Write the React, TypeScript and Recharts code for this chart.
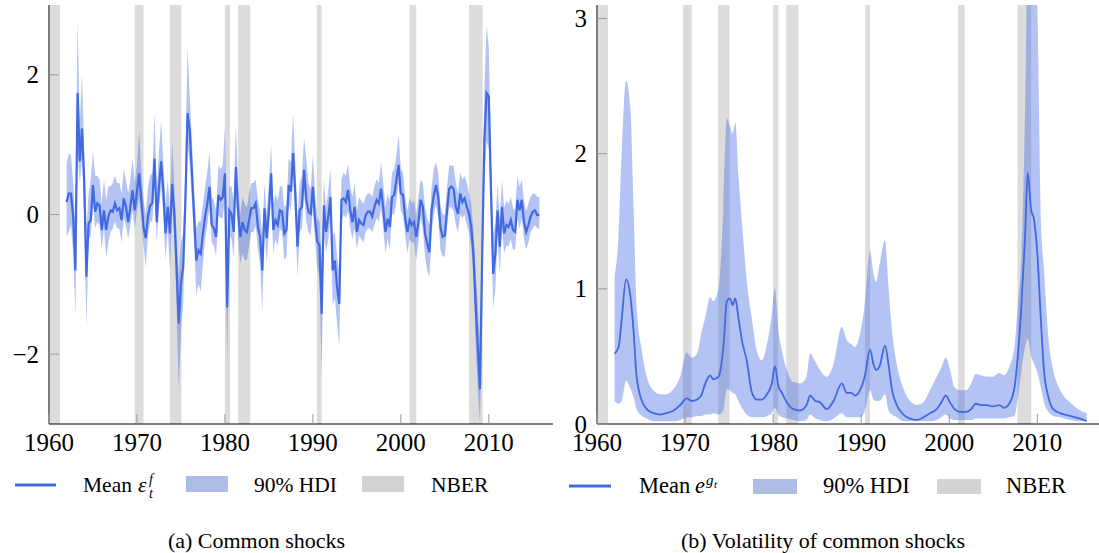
import React from "react";
import { Area, ComposedChart, Line, ReferenceArea, XAxis, YAxis } from "recharts";

const FONT = "'Liberation Serif', 'DejaVu Serif', serif";
const BLUE = "#4169e1";
const NBER_GREY = "#dcdcdc";
const TICK_GREY = "#999";

const yearTicks = [1960, 1970, 1980, 1990, 2000, 2010];
const shockTicks = [-2, 0, 2];
const volTicks = [0, 1, 2, 3];

// NBER recessions (start, end) in decimal years
const nberStart = [1960.1, 1969.75, 1973.75, 1980.0, 1981.5, 1990.45, 2001.0, 2007.75];
const nberEnd = [1961.25, 1970.75, 1975.05, 1980.58, 1982.87, 1991.0, 2001.75, 2009.3];

// (a) common shocks, quarterly from 1962Q1 to 2015Q4
const shockStart = 1962;
const shockMean = [
  0.18, 0.3, 0.3, -0.03, -0.8, 1.74, 0.76, 1.23, 0.49, -0.89,
  -0.13, -0.08, 0.42, 0.04, 0.16, 0.13, -0.22, 0.06, -0.22, -0.03,
  0.06, 0.04, 0.16, 0.06, 0.09, -0.08, 0.23, 0.11, -0.11, 0.11,
  0.35, 0.06, 0.33, 0.59, 0.21, -0.18, -0.34, -0.03, 0.13, 0.16,
  0.8, -0.11, 0.4, 0.76, 0.33, -0.27, 0.11, -0.27, 0.44, 0.01,
  -0.75, -1.56, -0.99, -0.75, 0.16, 1.45, 1.21, 0.59, -0.03, -0.66,
  -0.51, -0.56, -0.27, -0.03, 0.16, 0.4, -0.15, -0.2, -0.32, 0.28,
  0.21, 0.25, 0.59, -1.33, 0.06, 0.01, -0.25, 0.68, 0.04, -0.32,
  -0.11, -0.22, -0.25, -0.08, 0.09, 0.09, 0.16, -0.18, -0.32, -0.8,
  0.09, -0.34, 0.06, 0.59, -0.22, -0.08, -0.15, 0.06, 0.04, -0.27,
  -0.22, 0.42, 0.33, 0.88, 0.3, -0.46, 0.06, 0.11, 0.64,
  0.21, 0.04, 0.01, 0.4, -0.08, -0.39, -0.44, -1.42, 0.13, -0.25,
  -0.03, 0.25, -0.8, -0.66, -1.04, -1.28, 0.21, 0.23, 0.18, 0.35,
  0.06, -0.11, 0.11, -0.25, -0.08, -0.13, -0.15, -0.01, 0.04, 0.04,
  -0.03, 0.11, 0.21, 0.16, 0.37, 0.09, -0.25, -0.06, -0.18, 0.25,
  0.28, 0.49, 0.71, 0.3, 0.28, -0.06, -0.25, -0.08, -0.15, -0.11,
  -0.32, -0.11, 0.21, 0.11, -0.27, -0.42, -0.54, 0.06, 0.28, 0.42,
  0.25, -0.18, -0.32, -0.3, 0.06, 0.37, 0.4, 0.37, 0.11, 0.01,
  0.3, 0.18, 0.23, 0.11, 0.01, -0.18, -0.56, -1.28, -1.9, -2.5,
  -0.56, 1.07, 1.74, 1.69, 0.35, -0.85, -0.56, 0.06, -0.46, 0.11,
  -0.27, -0.15, -0.18, -0.08, -0.22, -0.25, 0.21, 0.06, 0.21, -0.11,
  -0.25, -0.15, -0.03, 0.04, 0.06, -0.01, 0.0,
];
const shockHi = [
  0.73, 0.88, 0.85, 0.45, -0.2, 2.8, 1.3, 2.0, 0.9, -0.2,
  0.3, 0.5, 0.9, 0.55, 0.55, 0.5, 0.15, 0.5, 0.2, 0.4,
  0.4, 0.45, 0.55, 0.45, 0.45, 0.3, 0.65, 0.5, 0.3, 0.5,
  0.8, 0.45, 0.7, 1.2, 0.6, 0.2, 0.0, 0.4, 0.55, 0.6,
  1.45, 0.3, 0.9, 1.35, 0.75, 0.15, 0.5, 0.1, 1.05, 0.4,
  -0.3, -0.9, -0.4, -0.25, 0.6, 2.4, 1.7, 1.05, 0.35, -0.2,
  -0.1, -0.1, 0.15, 0.4, 0.6, 0.9, 0.25, 0.2, 0.05, 0.7,
  0.65, 0.7, 1.25, -0.6, 0.4, 0.4, 0.2, 1.3, 0.4, 0.0,
  0.25, 0.15, 0.1, 0.3, 0.45, 0.45, 0.5, 0.2, 0.05, -0.3,
  0.45, 0.0, 0.45, 1.0, 0.15, 0.3, 0.2, 0.4, 0.4, 0.1,
  0.15, 0.8, 0.75, 1.45, 0.75, -0.05, 0.45, 0.55, 1.1,
  0.8, 0.45, 0.35, 0.85, 0.3, -0.05, -0.1, -0.7, 0.5, 0.1,
  0.35, 0.65, -0.3, -0.25, -0.6, -0.8, 0.5, 0.6, 0.55, 0.72,
  0.4, 0.25, 0.45, 0.05, 0.25, 0.2, 0.15, 0.25, 0.3, 0.3,
  0.25, 0.4, 0.5, 0.45, 0.75, 0.45, 0.1, 0.3, 0.2, 0.6,
  0.65, 0.85, 1.15, 0.65, 0.6, 0.25, 0.05, 0.25, 0.15, 0.2,
  0.0, 0.25, 0.5, 0.45, 0.1, -0.05, -0.15, 0.4, 0.65, 0.75,
  0.6, 0.15, 0.0, 0.0, 0.4, 0.7, 0.7, 0.7, 0.45, 0.3,
  0.6, 0.5, 0.55, 0.45, 0.3, 0.15, -0.2, -0.8, -1.3, -1.9,
  0.1, 1.8, 2.7, 2.4, 0.8, -0.3, -0.1, 0.45, -0.05, 0.5,
  0.1, 0.2, 0.15, 0.25, 0.1, 0.05, 0.55, 0.4, 0.5, 0.2,
  0.05, 0.15, 0.25, 0.3, 0.3, 0.25, 0.25,
];
const shockLo = [
  -0.32, -0.25, -0.15, -0.55, -1.45, 0.9, 0.45, 0.8, 0.0, -1.62,
  -0.35, -0.3, 0.15, -0.2, -0.1, -0.15, -0.5, -0.2, -0.62, -0.4,
  -0.25, -0.2, -0.1, -0.2, -0.2, -0.4, -0.05, -0.15, -0.35, -0.15,
  0.05, -0.2, 0.05, 0.25, -0.05, -0.45, -0.75, -0.3, -0.1, -0.1,
  0.45, -0.4, 0.1, 0.4, 0.0, -0.65, -0.2, -0.8, 0.1, -0.3,
  -1.3, -2.5, -1.7, -1.3, -0.2, 1.0, 0.75, 0.2, -0.4, -1.15,
  -1.0, -1.1, -0.7, -0.35, -0.15, 0.1, -0.4, -0.45, -0.6, 0.0,
  -0.05, -0.05, 0.25, -2.1, -0.3, -0.35, -0.6, 0.3, -0.35, -0.7,
  -0.55, -0.65, -0.65, -0.45, -0.25, -0.25, -0.15, -0.5, -0.7, -1.4,
  -0.2, -0.7, -0.25, 0.3, -0.55, -0.35, -0.45, -0.2, -0.25, -0.65,
  -0.6, 0.15, 0.05, 0.55, 0.0, -0.9, -0.25, -0.2, 0.3,
  -0.1, -0.25, -0.3, 0.1, -0.35, -0.75, -0.9, -2.3, -0.2, -0.55,
  -0.35, -0.05, -1.3, -1.2, -1.55, -1.9, -0.1, 0.0, -0.05, 0.05,
  -0.2, -0.35, -0.2, -0.5, -0.3, -0.35, -0.4, -0.25, -0.2, -0.2,
  -0.25, -0.15, -0.05, -0.1, 0.1, -0.2, -0.55, -0.35, -0.5, 0.0,
  0.0, 0.2, 0.45, 0.05, 0.0, -0.3, -0.55, -0.35, -0.4, -0.4,
  -0.65, -0.4, -0.05, -0.2, -0.6, -0.8, -0.9, -0.25, 0.0, 0.15,
  -0.05, -0.5, -0.6, -0.6, -0.2, 0.1, 0.1, 0.05, -0.15, -0.25,
  0.0, -0.05, 0.0, -0.15, -0.25, -0.45, -0.9, -1.8, -2.5, -3.0,
  -1.3, 0.5, 1.05, 0.95, 0.0, -1.35, -1.05, -0.3, -0.85, -0.2,
  -0.55, -0.45, -0.45, -0.35, -0.5, -0.5, -0.05, -0.2, -0.05, -0.35,
  -0.5, -0.4, -0.25, -0.2, -0.15, -0.2, -0.2,
];

// (b) volatility of common shocks
const volYears = [
  1962.0, 1962.45, 1962.8, 1963.3, 1963.8, 1964.15, 1964.5, 1965.1, 1965.65, 1966.4,
  1967.2, 1967.9, 1968.7, 1969.45, 1970.2, 1970.75, 1971.35, 1971.9, 1972.3, 1972.85,
  1973.2, 1973.8, 1974.35, 1974.75, 1975.1, 1975.4, 1975.7, 1976.05, 1976.45, 1977.0,
  1977.6, 1978.15, 1978.7, 1979.3, 1979.85, 1980.2, 1980.6, 1981.0, 1981.55, 1982.3,
  1983.05, 1983.8, 1984.2, 1984.8, 1985.33, 1986.1, 1986.85, 1987.8, 1988.36, 1988.9,
  1989.3, 1989.87, 1990.4, 1991.0, 1991.4, 1991.7, 1992.1, 1992.7, 1993.1, 1993.5,
  1994.04, 1994.8, 1995.55, 1996.3, 1997.06, 1997.8, 1998.57, 1999.1, 1999.6, 2000.09,
  2000.6, 2001.2, 2001.9, 2002.5, 2003.0, 2003.6, 2004.2, 2004.9, 2005.7, 2006.2,
  2006.8, 2007.4, 2007.8, 2008.2, 2008.6, 2008.9, 2009.3, 2009.6, 2010.0, 2010.4,
  2010.75, 2011.25, 2011.8, 2012.6, 2013.7, 2014.85, 2015.6,
];
const volMean = [
  0.52, 0.57, 0.77, 1.07, 0.94, 0.69, 0.35, 0.17, 0.11, 0.08,
  0.07, 0.08, 0.1, 0.14, 0.19, 0.17, 0.18, 0.22, 0.3, 0.36,
  0.33, 0.35, 0.57, 0.91, 0.93, 0.88, 0.93, 0.79, 0.62, 0.47,
  0.23, 0.18, 0.18, 0.22, 0.3, 0.43, 0.28, 0.23, 0.16, 0.11,
  0.1, 0.14, 0.21, 0.17, 0.16, 0.11, 0.17, 0.3, 0.23, 0.23,
  0.21, 0.25, 0.35, 0.55, 0.44, 0.4, 0.43, 0.58, 0.44, 0.25,
  0.14, 0.07, 0.04, 0.03, 0.05, 0.08, 0.11, 0.16, 0.21, 0.16,
  0.11, 0.09, 0.09, 0.11, 0.15, 0.14, 0.14, 0.13, 0.14, 0.12,
  0.15, 0.27, 0.52, 0.89, 1.38, 1.86, 1.58, 1.52, 1.26, 0.77,
  0.4, 0.2, 0.11, 0.08, 0.06, 0.04, 0.02,
];
const volHi = [
  1.1, 1.4, 2.0, 2.54, 2.32, 1.6, 0.86, 0.54, 0.35, 0.25,
  0.22, 0.22, 0.26, 0.35, 0.53, 0.49, 0.52, 0.69, 0.79, 0.94,
  0.91, 1.0, 1.6, 2.26, 2.2, 2.15, 2.23, 1.85, 1.5, 1.06,
  0.77, 0.54, 0.47, 0.59, 0.81, 1.0, 0.69, 0.54, 0.4, 0.31,
  0.3, 0.35, 0.52, 0.46, 0.4, 0.35, 0.44, 0.72, 0.62, 0.59,
  0.57, 0.67, 0.89, 1.28, 1.11, 1.05, 1.19, 1.36, 1.01, 0.69,
  0.44, 0.26, 0.17, 0.14, 0.16, 0.25, 0.35, 0.42, 0.49, 0.4,
  0.27, 0.25, 0.25, 0.3, 0.37, 0.36, 0.35, 0.35, 0.38, 0.36,
  0.42, 0.57, 0.89, 1.25, 2.3, 3.6, 4.2, 3.8, 3.1, 1.5,
  1.14, 0.64, 0.4, 0.25, 0.16, 0.1, 0.08,
];
const volLo = [
  0.17, 0.15, 0.17, 0.32, 0.26, 0.2, 0.11, 0.06, 0.04, 0.02,
  0.02, 0.02, 0.02, 0.03, 0.05, 0.05, 0.06, 0.06, 0.07, 0.07,
  0.08, 0.07, 0.1, 0.26, 0.25, 0.23, 0.22, 0.17, 0.12, 0.07,
  0.05, 0.05, 0.05, 0.06, 0.08, 0.12, 0.07, 0.05, 0.04, 0.03,
  0.02, 0.03, 0.07, 0.04, 0.03, 0.02, 0.04, 0.08, 0.05, 0.05,
  0.05, 0.05, 0.09, 0.25, 0.18, 0.17, 0.17, 0.22, 0.1, 0.07,
  0.05, 0.02, 0.02, 0.02, 0.02, 0.02, 0.03, 0.05, 0.07, 0.04,
  0.03, 0.03, 0.03, 0.03, 0.04, 0.04, 0.04, 0.04, 0.04, 0.04,
  0.05, 0.06, 0.2, 0.4, 0.57, 0.63, 0.5, 0.45, 0.38, 0.27,
  0.16, 0.09, 0.06, 0.05, 0.03, 0.02, 0.02,
];

const shockRows = shockMean.map((m, i) => ({
  year: shockStart + i * 0.25,
  mean: m,
  band: [shockLo[i], shockHi[i]],
}));
const volRows = volYears.map((y, i) => ({
  year: y,
  mean: volMean[i],
  band: [volLo[i], volHi[i]],
}));

const fmt = (v: number) => (v < 0 ? `\u2212${Math.abs(v)}` : `${v}`);
const serif = { fontFamily: FONT };

const BottomTick = (props: any) => {
  const { x, y, payload } = props;
  return (
    <g>
      <line x1={x} y1={y} x2={x} y2={y - 10} stroke={TICK_GREY} />
      <text x={x} y={y + 27} textAnchor="middle" fontSize={25} style={serif} fill="#000">
        {payload.value}
      </text>
    </g>
  );
};
const TopTick = (props: any) => {
  const { x, y } = props;
  return <line x1={x} y1={y} x2={x} y2={y + 10} stroke={TICK_GREY} />;
};
const LeftTick = (props: any) => {
  const { x, y, payload } = props;
  return (
    <g>
      <line x1={x} y1={y} x2={x + 10} y2={y} stroke={TICK_GREY} />
      <text x={x - 10} y={y + 8.5} textAnchor="end" fontSize={25} style={serif} fill="#000">
        {fmt(payload.value)}
      </text>
    </g>
  );
};
const RightTick = (props: any) => {
  const { x, y } = props;
  return <line x1={x} y1={y} x2={x - 10} y2={y} stroke={TICK_GREY} />;
};

interface PanelProps {
  data: any[];
  width: number;
  left: number;
  yWidth: number;
  marginRight: number;
  xDomain: [number, number];
  yDomain: [number, number];
  yTicks: number[];
  lineWidth: number;
  curve: "linear" | "monotone";
  layer: "back" | "front";
}

// The panel is drawn twice at the same spot: the back layer holds only the
// NBER shading, the front layer the band, line and axes on a clear background.
function Panel(p: PanelProps) {
  const front = p.layer === "front";
  return (
    <div style={{ position: "absolute", left: p.left, top: 0 }}>
      <ComposedChart
        width={p.width}
        height={460}
        data={p.data}
        margin={{ top: 5, right: p.marginRight, bottom: 0, left: 0 }}
        accessibilityLayer={false}
      >
        {!front &&
          nberStart.map((s, i) => (
            <ReferenceArea
              key={i}
              x1={s}
              x2={nberEnd[i]}
              fill={NBER_GREY}
              fillOpacity={1}
              stroke="none"
            />
          ))}
        <XAxis
          dataKey="year"
          type="number"
          domain={p.xDomain}
          ticks={yearTicks}
          height={36}
          tickSize={0}
          tickMargin={0}
          axisLine={front ? { stroke: "#000" } : false}
          tickLine={false}
          tick={front ? (t: any) => <BottomTick {...t} /> : false}
        />
        <XAxis
          xAxisId="top"
          orientation="top"
          type="number"
          domain={p.xDomain}
          ticks={yearTicks}
          height={0}
          tickSize={0}
          tickMargin={0}
          axisLine={front ? { stroke: "#000" } : false}
          tickLine={false}
          tick={front ? (t: any) => <TopTick {...t} /> : false}
        />
        <YAxis
          type="number"
          domain={p.yDomain}
          ticks={p.yTicks}
          allowDataOverflow
          width={p.yWidth}
          tickSize={0}
          tickMargin={0}
          axisLine={front ? { stroke: "#000" } : false}
          tickLine={false}
          tick={front ? (t: any) => <LeftTick {...t} /> : false}
        />
        <YAxis
          yAxisId="right"
          orientation="right"
          type="number"
          domain={p.yDomain}
          ticks={p.yTicks}
          allowDataOverflow
          width={0}
          tickSize={0}
          tickMargin={0}
          axisLine={front ? { stroke: "#000" } : false}
          tickLine={false}
          tick={front ? (t: any) => <RightTick {...t} /> : false}
        />
        {front && (
          <Area
            dataKey="band"
            type={p.curve}
            fill={BLUE}
            fillOpacity={0.4}
            stroke="none"
            isAnimationActive={false}
          />
        )}
        <Line
          dataKey="mean"
          type={p.curve}
          stroke={front ? BLUE : "none"}
          strokeWidth={p.lineWidth}
          dot={false}
          isAnimationActive={false}
        />
      </ComposedChart>
    </div>
  );
}

const txt = { fill: "#000", style: serif };

function Labels() {
  return (
    <svg width={1099} height={553} style={{ position: "absolute", left: 0, top: 0 }}>
      {/* legend (a) */}
      <rect x={15} y={483.5} width={41} height={3} fill={BLUE} />
      <text x={83} y={492} fontSize={21.5} {...txt}>Mean</text>
      <text x={138} y={492} fontSize={21.5} fontStyle="italic" {...txt}>ε</text>
      <text x={149} y={484} fontSize={14} fontStyle="italic" {...txt}>f</text>
      <text x={149} y={498} fontSize={14} fontStyle="italic" {...txt}>t</text>
      <rect x={186} y={476} width={42} height={16} fill="#aebde4" />
      <text x={254} y={492} fontSize={21.5} {...txt}>90% HDI</text>
      <rect x={362} y={476} width={42} height={16} fill="#d3d3d3" />
      <text x={431} y={492} fontSize={21.5} {...txt}>NBER</text>

      {/* legend (b) */}
      <rect x={569} y={484.5} width={42} height={3} fill={BLUE} />
      <text x={639} y={493} fontSize={22.5} {...txt}>Mean</text>
      <text x={695} y={493} fontSize={22.5} fontStyle="italic" {...txt}>e</text>
      <text x={706} y={485} fontSize={15} fontStyle="italic" {...txt}>g</text>
      <text x={714} y={488} fontSize={11} fontStyle="italic" {...txt}>t</text>
      <rect x={753} y={479} width={44} height={15} fill="#aebde4" />
      <text x={823} y={493} fontSize={22.5} {...txt}>90% HDI</text>
      <rect x={937} y={479} width={44} height={15} fill="#d3d3d3" />
      <text x={1006} y={493} fontSize={22.5} {...txt}>NBER</text>

      {/* captions */}
      <text x={256.5} y={548} fontSize={22} textAnchor="middle" {...txt}>(a) Common shocks</text>
      <text x={823} y={548} fontSize={22} textAnchor="middle" {...txt}>(b) Volatility of common shocks</text>
    </svg>
  );
}

const shockPanel = {
  data: shockRows,
  width: 560,
  left: 0,
  yWidth: 49,
  marginRight: 7,
  xDomain: [1960, 2017.3] as [number, number],
  yDomain: [-3, 3] as [number, number],
  yTicks: shockTicks,
  lineWidth: 2.2,
  curve: "linear" as const,
};
const volPanel = {
  data: volRows,
  width: 539,
  left: 560,
  yWidth: 37,
  marginRight: 0,
  xDomain: [1960, 2017] as [number, number],
  yDomain: [0, 3.1] as [number, number],
  yTicks: volTicks,
  lineWidth: 1.8,
  curve: "monotone" as const,
};

export default function App() {
  return (
    <div
      style={{
        position: "absolute",
        left: 0,
        top: 0,
        width: 1099,
        height: 553,
        overflow: "hidden",
        background: "#fff",
        fontFamily: FONT,
      }}
    >
      <Labels />
      <Panel {...shockPanel} layer="back" />
      <Panel {...volPanel} layer="back" />
      <Panel {...shockPanel} layer="front" />
      <Panel {...volPanel} layer="front" />
    </div>
  );
}
